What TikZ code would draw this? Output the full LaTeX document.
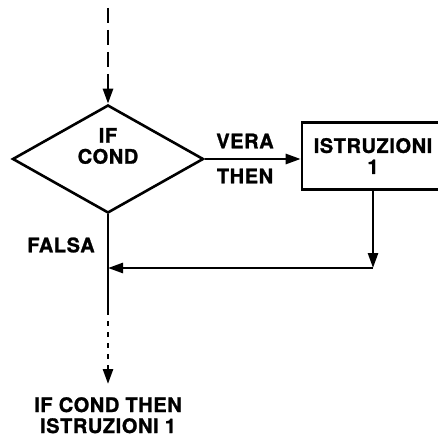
\documentclass[tikz,border=0pt]{standalone}
\usepackage{fontspec}
\setmainfont{TeX Gyre Heros}[LetterSpace=3.0,BoldFeatures={FakeBold=1.2}]
\usetikzlibrary{arrows.meta,shapes.geometric,positioning}

\begin{document}
\begin{tikzpicture}[
  x=1pt,
  y=-1pt,
  line join=miter,
  plain/.style={draw=black,line width=2.6pt},
  flow/.style={plain,-{Triangle[length=15pt,width=10pt]}},
  entryflow/.style={flow,dash pattern=on 15pt off 7pt},
  exitflow/.style={flow,dash pattern=on 5pt off 6pt},
  lbl/.style={font=\fontsize{20}{21}\selectfont\bfseries,align=center,inner sep=0pt},
  decision/.style={diamond,plain,minimum width=191pt,minimum height=108pt,inner sep=0pt},
  stepbox/.style={rectangle,plain,lbl,minimum width=142pt,minimum height=67pt}
]
  \useasboundingbox (0,0) rectangle (438,438);

  % Test node and the block it guards.
  \coordinate (start) at (108,8);
  \node[decision] (cond) at (108,159) {};
  \node[lbl] (condtext) at ([yshift=13pt]cond.center) {IF\\COND};
  \node[stepbox] (istr) at (373,156) {ISTRUZIONI\\1};

  % Branch labels.
  \node[lbl] (vera) at (245,141) {VERA};
  \node[lbl] (then) at (245,176) {THEN};
  \node[lbl] (falsa) at (61,245) {FALSA};

  \coordinate (join) at (373,268);
  \coordinate (solidend) at (108,310);
  \coordinate (outend) at (108,384);
  \node[lbl,below=13pt of outend] (result) {IF COND THEN\\ISTRUZIONI 1};

  % Connectors.
  \draw[entryflow] (start) -- (cond.north);
  \draw[flow] (cond.east) -- (cond.east -| istr.west);
  \draw[flow] (istr.south) -- (join);
  \draw[flow] (join) -- (join -| cond.south);
  \draw[plain] (cond.south) -- (solidend);
  \draw[exitflow] (solidend) -- (outend);
\end{tikzpicture}
\end{document}
